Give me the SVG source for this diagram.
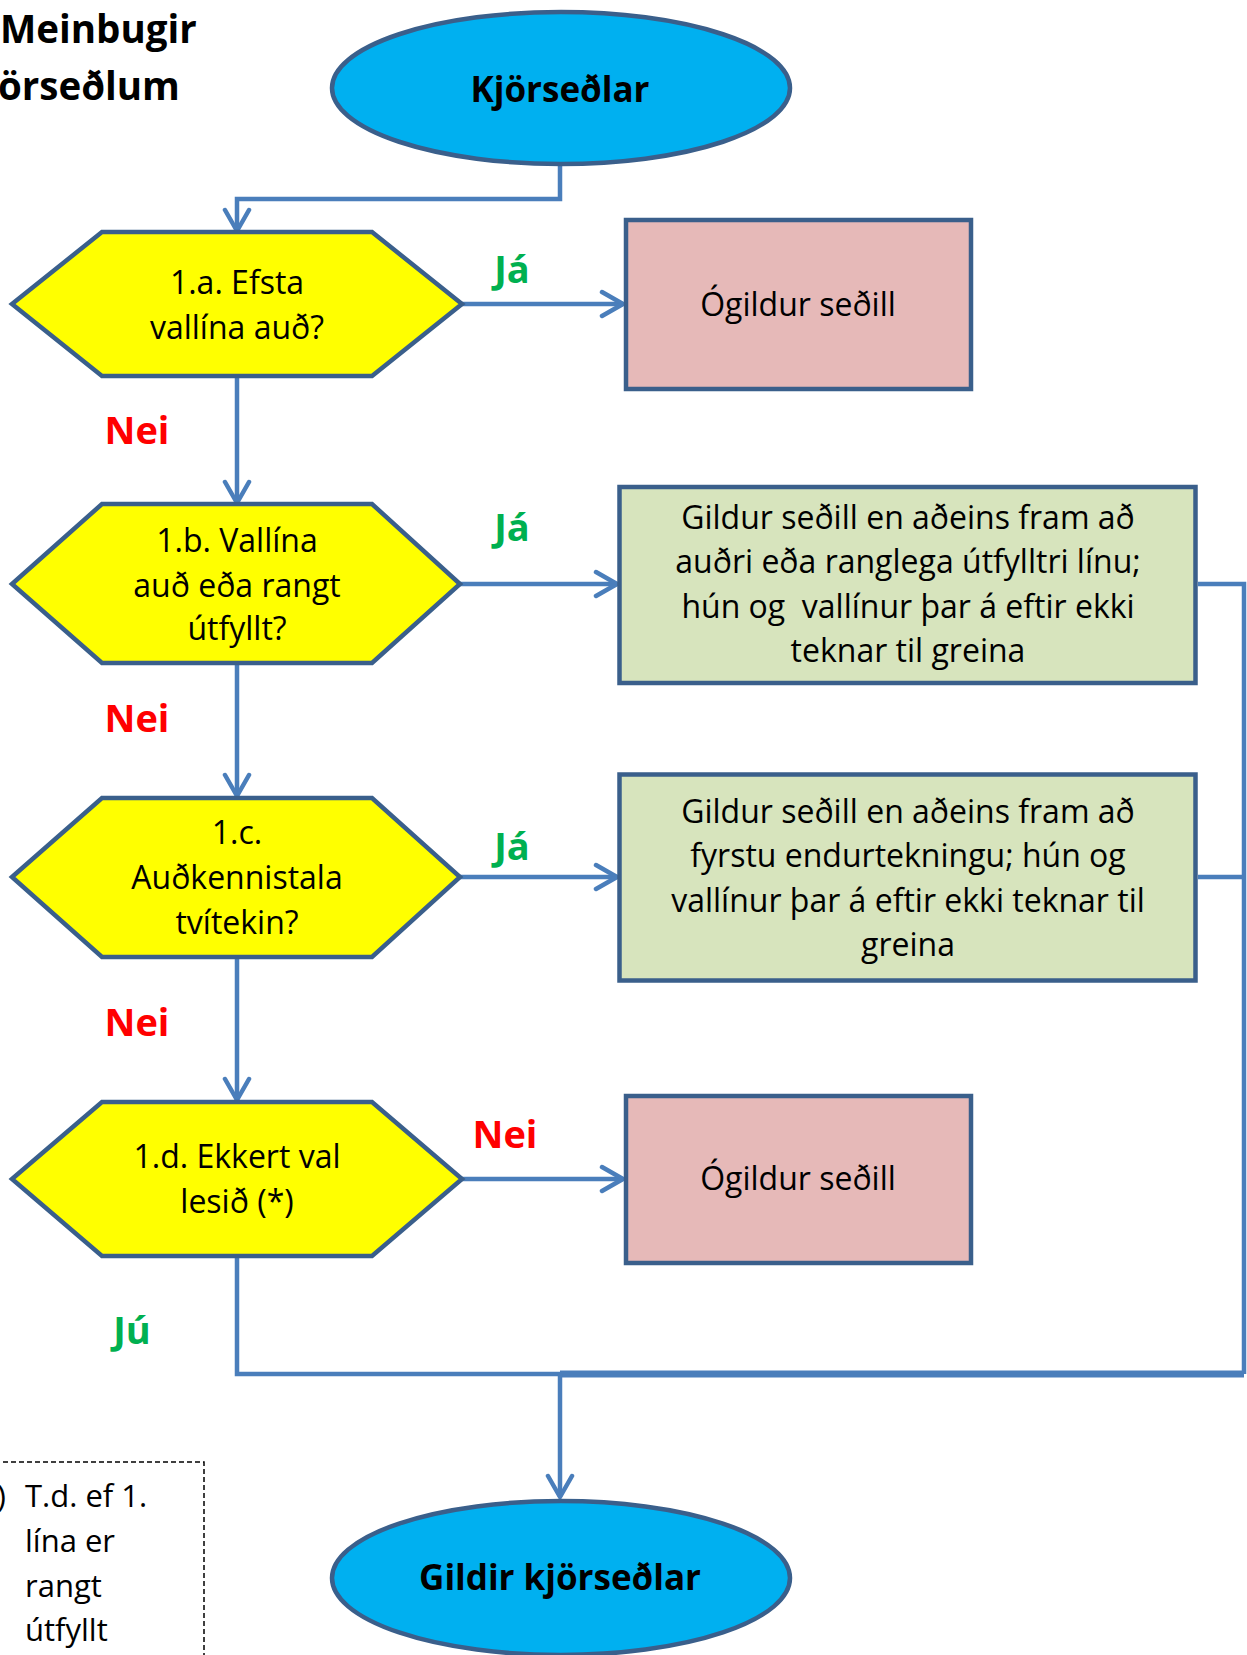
<svg xmlns="http://www.w3.org/2000/svg" width="1247" height="1655" viewBox="0 0 1247 1655">
<style>
.t{font-family:"Open Sans","Liberation Sans",sans-serif;font-size:32px;fill:#000;text-anchor:middle}
.b{font-family:"Open Sans","Liberation Sans",sans-serif;font-weight:bold;text-anchor:middle}
.ell{fill:#00B0F0;stroke:#3A5F8B;stroke-width:4.5}
.hex{fill:#FFFF00;stroke:#3A5F8B;stroke-width:4.5;stroke-linejoin:miter}
.pink{fill:#E6B9B8;stroke:#3A5F8B;stroke-width:4.5}
.green{fill:#D7E4BD;stroke:#3A5F8B;stroke-width:4.5}
.c{fill:none;stroke:#4A7EBB;stroke-width:4.5}
.yes{fill:#00B050;font-size:38px}
.no{fill:#FF0000;font-size:38px}
</style>
<defs>
<marker id="arr" viewBox="-24 -15 28 30" refX="0" refY="0" markerWidth="28" markerHeight="30" markerUnits="userSpaceOnUse" orient="auto">
<path d="M-21,-12 L0,0 L-21,12" fill="none" stroke="#4A7EBB" stroke-width="4.5" stroke-linecap="round" stroke-linejoin="round"/>
</marker>
</defs>
<rect width="1247" height="1655" fill="#fff"/>

<g id="title">
<text class="b" style="text-anchor:start;font-size:38.5px" x="0" y="43">Meinbugir</text>
<text class="b" style="text-anchor:start;font-size:38.5px" x="-2" y="100">örseðlum</text>
</g>

<g id="connectors">
<path class="c" d="M560,164 V199 H237 V231" marker-end="url(#arr)"/>
<path class="c" d="M462,304 H623" marker-end="url(#arr)"/>
<path class="c" d="M237,376 V503" marker-end="url(#arr)"/>
<path class="c" d="M460,584 H617" marker-end="url(#arr)"/>
<path class="c" d="M237,663 V796" marker-end="url(#arr)"/>
<path class="c" d="M460,877 H617" marker-end="url(#arr)"/>
<path class="c" d="M237,957 V1100" marker-end="url(#arr)"/>
<path class="c" d="M462,1179 H623" marker-end="url(#arr)"/>
<path class="c" d="M237,1256 V1374 H560"/>
<path class="c" d="M1198,584 H1244 V1374"/>
<path class="c" d="M1198,877 H1244"/>
<path class="c" style="stroke-width:7" d="M1244,1374 H560"/>
<path class="c" d="M560,1374 V1497" marker-end="url(#arr)"/>
</g>

<g id="start">
<ellipse class="ell" cx="561" cy="88" rx="229" ry="76"/>
<text class="b" style="font-size:35px" x="560" y="102">Kjörseðlar</text>
</g>

<g id="q1a">
<polygon class="hex" points="12,304 102,232 372,232 462,304 372,376 102,376"/>
<text class="t" x="237" y="294">1.a. Efsta</text>
<text class="t" x="237" y="339">vallína auð?</text>
</g>

<g id="invalid1">
<rect class="pink" x="626" y="220" width="345" height="169"/>
<text class="t" x="798" y="316">Ógildur seðill</text>
</g>

<g id="q1b">
<polygon class="hex" points="12,584 102,504 372,504 460,584 372,663 102,663"/>
<text class="t" x="237" y="552">1.b. Vallína</text>
<text class="t" x="237" y="597">auð eða rangt</text>
<text class="t" x="237" y="640">útfyllt?</text>
</g>

<g id="valid1">
<rect class="green" x="619.5" y="487" width="576" height="196"/>
<text class="t" x="908" y="529">Gildur seðill en aðeins fram að</text>
<text class="t" x="908" y="573">auðri eða ranglega útfylltri línu;</text>
<text class="t" x="908" y="618" style="white-space:pre" xml:space="preserve">hún og  vallínur þar á eftir ekki</text>
<text class="t" x="908" y="662">teknar til greina</text>
</g>

<g id="q1c">
<polygon class="hex" points="12,877 102,798 372,798 460,877 372,957 102,957"/>
<text class="t" x="237" y="844">1.c.</text>
<text class="t" x="237" y="889">Auðkennistala</text>
<text class="t" x="237" y="934">tvítekin?</text>
</g>

<g id="valid2">
<rect class="green" x="619.5" y="774.5" width="576" height="206"/>
<text class="t" x="908" y="823">Gildur seðill en aðeins fram að</text>
<text class="t" x="908" y="867">fyrstu endurtekningu; hún og</text>
<text class="t" x="908" y="912">vallínur þar á eftir ekki teknar til</text>
<text class="t" x="908" y="956">greina</text>
</g>

<g id="q1d">
<polygon class="hex" points="12,1179 102,1102 372,1102 462,1179 372,1256 102,1256"/>
<text class="t" x="237" y="1168">1.d. Ekkert val</text>
<text class="t" x="237" y="1213">lesið (*)</text>
</g>

<g id="invalid2">
<rect class="pink" x="626" y="1096" width="345" height="167"/>
<text class="t" x="798" y="1190">Ógildur seðill</text>
</g>

<g id="end">
<ellipse class="ell" cx="561" cy="1578" rx="229" ry="77"/>
<text class="b" style="font-size:35px" x="560" y="1590">Gildir kjörseðlar</text>
</g>

<g id="labels">
<text class="b yes" x="512" y="283">Já</text>
<text class="b yes" x="512" y="541">Já</text>
<text class="b yes" x="512" y="860">Já</text>
<text class="b no" x="137" y="444">Nei</text>
<text class="b no" x="137" y="732">Nei</text>
<text class="b no" x="137" y="1036">Nei</text>
<text class="b no" x="505" y="1148">Nei</text>
<text class="b yes" x="132" y="1344">Jú</text>
</g>

<g id="footnote">
<rect x="-5" y="1462" width="209" height="200" fill="none" stroke="#000" stroke-width="1.5" stroke-dasharray="5,3"/>
<text class="t" style="text-anchor:end;font-size:31px" x="6" y="1507">)</text>
<text class="t" style="text-anchor:start;font-size:31px" x="25" y="1507">T.d. ef 1.</text>
<text class="t" style="text-anchor:start;font-size:31px" x="25" y="1552">lína er</text>
<text class="t" style="text-anchor:start;font-size:31px" x="25" y="1597">rangt</text>
<text class="t" style="text-anchor:start;font-size:31px" x="25" y="1641">útfyllt</text>
</g>
</svg>
